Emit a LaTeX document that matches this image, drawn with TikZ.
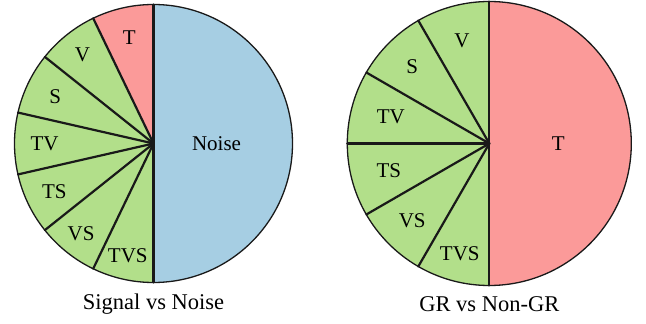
\documentclass[tikz,border=0pt]{standalone}
\usepackage{fontspec}
\setmainfont{Liberation Serif}
\definecolor{pgreen}{HTML}{B2DF8A}
\definecolor{pred}{HTML}{FB9A99}
\definecolor{pblue}{HTML}{A6CEE3}
\tikzset{
  divider/.style={line width=2.2pt, draw=black!90, line cap=round},
  rim/.style={line width=1.3pt, draw=black!90},
  lbl/.style={font=\fontsize{21}{23}\selectfont, inner sep=0pt},
  captiontext/.style={font=\fontsize{22.5}{25}\selectfont, inner sep=0pt}
}
\begin{document}
\begin{tikzpicture}[x=1pt,y=1pt]
\useasboundingbox (0,0) rectangle (646,324);
% Left pie
\begin{scope}[shift={(153.5,180.5)}]
  \def\R{139}
  \fill[pblue] (0,0) -- (-90:\R) arc[start angle=-90, end angle=90, radius=\R] -- cycle;
  \fill[pred] (0,0) -- (90:\R) arc[start angle=90, end angle=115.714, radius=\R] -- cycle;
  \fill[pgreen] (0,0) -- (115.714:\R) arc[start angle=115.714, end angle=270, radius=\R] -- cycle;
  \foreach \k in {0,...,7} {
    \draw[divider] (0,0) -- ({90+\k*180/7}:\R);
  }
  \draw[rim] (0,0) circle[radius=\R];
  \node[lbl] (lT) at (102.9:109) {T};
  \node[lbl] (lV) at (128.6:114) {V};
  \node[lbl] (lS) at (154.3:109) {S};
  \node[lbl] (lTV) at (180:109) {TV};
  \node[lbl] (lTS) at (205.7:110) {TS};
  \node[lbl] (lVS) at (231.4:116) {VS};
  \node[lbl] (lTVS) at (257.1:115) {TVS};
  \node[lbl] (lNoise) at (0:63) {Noise};
\end{scope}
\node[captiontext] (capL) at (153.5,20) {Signal vs Noise};
% Right pie
\begin{scope}[shift={(489.3,180.5)}]
  \def\R{142}
  \fill[pred] (0,0) -- (-90:\R) arc[start angle=-90, end angle=90, radius=\R] -- cycle;
  \fill[pgreen] (0,0) -- (90:\R) arc[start angle=90, end angle=270, radius=\R] -- cycle;
  \foreach \k in {0,...,6} {
    \draw[divider] (0,0) -- ({90+\k*30}:\R);
  }
  \draw[rim] (0,0) circle[radius=\R];
  \node[lbl] (rV) at (105:106) {V};
  \node[lbl] (rS) at (135:109) {S};
  \node[lbl] (rTV) at (165:102) {TV};
  \node[lbl] (rTS) at (195:104) {TS};
  \node[lbl] (rVS) at (225:109) {VS};
  \node[lbl] (rTVS) at (255:114) {TVS};
  \node[lbl] (rT) at (0:69) {T};
\end{scope}
\node[captiontext] (capR) at (489.3,20) {GR vs Non-GR};
\end{tikzpicture}
\end{document}
